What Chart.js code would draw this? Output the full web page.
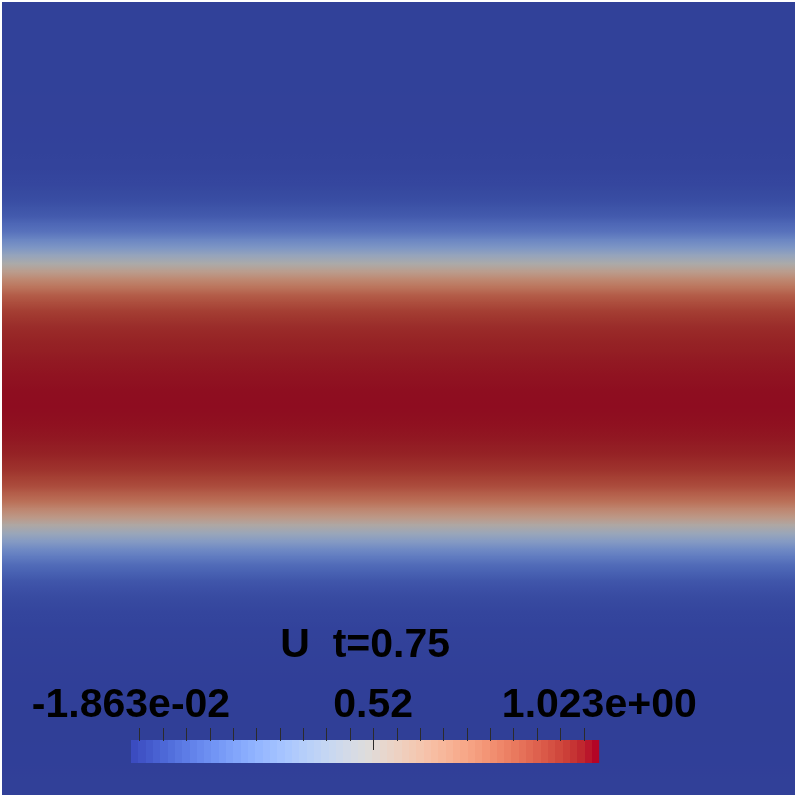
<!DOCTYPE html>
<html>
<head>
<meta charset="utf-8">
<script src="https://cdn.jsdelivr.net/npm/chart.js@4.4.1/dist/chart.umd.min.js"></script>
<style>
  html, body { margin: 0; padding: 0; background: #fff; }
  #wrap { position: relative; width: 797px; height: 797px; overflow: hidden; }
  #field { position: absolute; left: 2px; top: 2px; }
  #bar { position: absolute; left: 0; top: 600px; }
</style>
</head>
<body>
<div id="wrap">
  <canvas id="field" width="793" height="793"></canvas>
  <canvas id="bar" width="797" height="190"></canvas>
</div>
<script>
// domain height of each sample row (top to bottom) and the value of U there
const yPos = [0.99, 0.97, 0.95, 0.93, 0.91, 0.89, 0.87, 0.85, 0.83, 0.81,
              0.79, 0.77, 0.75, 0.73, 0.71, 0.69, 0.67, 0.65, 0.63, 0.61,
              0.59, 0.57, 0.55, 0.53, 0.51, 0.49, 0.47, 0.45, 0.43, 0.41,
              0.39, 0.37, 0.35, 0.33, 0.31, 0.29, 0.27, 0.25, 0.23, 0.21,
              0.19, 0.17, 0.15, 0.13, 0.11, 0.09, 0.07, 0.05, 0.03, 0.01];
const uVals = [0.000, 0.000, 0.000, 0.000, 0.000, 0.000, 0.001, 0.001, 0.002, 0.004,
               0.008, 0.017, 0.037, 0.079, 0.162, 0.310, 0.505, 0.700, 0.845, 0.925,
               0.965, 0.985, 0.996, 1.004, 1.010, 1.012, 1.008, 1.000, 0.985, 0.950,
               0.890, 0.785, 0.625, 0.425, 0.255, 0.135, 0.065, 0.030, 0.013, 0.005,
               0.001, -0.002, -0.004, -0.005, -0.006, -0.006, -0.006, -0.005, -0.004, -0.003];
const xRange = [0, 1];

const uMin = -1.863e-2;
const uMax = 1.023;
const tickVals = [0, 0.052, 0.104, 0.156, 0.208, 0.26, 0.312, 0.364, 0.416, 0.468,
                  0.52, 0.572, 0.624, 0.676, 0.728, 0.78, 0.832, 0.884, 0.936, 0.988];
const labelVals = [uMin, 0.52, uMax];
const labelText = ['-1.863e-02', '0.52', '1.023e+00'];
const titleText = 'U  t=0.75';

// cool to warm lookup table
const coolWarm = [
  [59,76,192],[68,90,204],[77,104,215],[87,117,225],[98,130,234],[108,142,241],
  [119,154,247],[130,165,251],[141,176,254],[152,185,255],[163,194,255],[174,201,253],
  [184,208,249],[194,213,244],[204,217,238],[213,219,230],[221,221,221],[229,216,209],
  [236,211,197],[241,204,185],[245,196,173],[247,187,160],[247,177,148],[247,166,135],
  [244,154,123],[241,141,111],[236,127,99],[229,112,88],[222,96,77],[213,80,66],
  [203,62,56],[192,40,47],[180,4,38]
];
const SHADE = 0.77;

function cmap(t, k) {
  t = Math.max(0, Math.min(1, t));
  const p = t * (coolWarm.length - 1);
  const i = Math.min(Math.floor(p), coolWarm.length - 2);
  const f = p - i;
  const a = coolWarm[i], b = coolWarm[i + 1];
  const c = a.map((v, j) => Math.round((v + (b[j] - v) * f) * k));
  return 'rgb(' + c.join(',') + ')';
}
function fieldColor(u) {
  return cmap((u - uMin) / (uMax - uMin), SHADE);
}

function rowFill(ctx) {
  const i = ctx.dataIndex;
  const chart = ctx.chart;
  if (ctx.type !== 'data' || !chart.chartArea) return fieldColor(uVals[i]);
  const ys = chart.scales.y;
  const half = Math.abs(yPos[1] - yPos[0]) / 2;
  const top = ys.getPixelForValue(yPos[i] + half);
  const bot = ys.getPixelForValue(yPos[i] - half);
  const uTop = i > 0 ? (uVals[i - 1] + uVals[i]) / 2 : uVals[i];
  const uBot = i < uVals.length - 1 ? (uVals[i] + uVals[i + 1]) / 2 : uVals[i];
  const g = chart.ctx.createLinearGradient(0, top, 0, bot);
  g.addColorStop(0, fieldColor(uTop));
  g.addColorStop(0.5, fieldColor(uVals[i]));
  g.addColorStop(1, fieldColor(uBot));
  return g;
}

new Chart(document.getElementById('field'), {
  type: 'bar',
  data: {
    datasets: [{
      data: yPos.map(y => ({ x: xRange, y: y })),
      backgroundColor: rowFill,
      borderWidth: 0,
      inflateAmount: 1,
      barPercentage: 1,
      categoryPercentage: 1
    }]
  },
  options: {
    indexAxis: 'y',
    responsive: false,
    animation: false,
    layout: { padding: 0 },
    plugins: { legend: { display: false }, tooltip: { enabled: false } },
    scales: {
      x: { type: 'linear', min: 0, max: 1, display: false },
      y: { type: 'linear', min: 0, max: 1, offset: false, display: false,
           grid: { offset: false }, ticks: { stepSize: 0.1 } }
    }
  }
});

// colour bar
const N_TABLE = 64;
function barFill(ctx) {
  const chart = ctx.chart;
  if (!chart.chartArea) return cmap(0.5, 1);
  const xs = chart.scales.x;
  const x0 = xs.getPixelForValue(uMin), x1 = xs.getPixelForValue(uMax);
  const g = chart.ctx.createLinearGradient(x0, 0, x1, 0);
  for (let k = 0; k < N_TABLE; k++) {
    const col = cmap(k / (N_TABLE - 1), 1);
    g.addColorStop(k / N_TABLE, col);
    g.addColorStop((k + 1) / N_TABLE - 1e-6, col);
  }
  return g;
}

const barMarks = {
  id: 'barMarks',
  afterDraw(chart) {
    const c = chart.ctx, xs = chart.scales.x, area = chart.chartArea;
    c.save();
    c.strokeStyle = '#2b2b2b';
    c.lineWidth = 1;
    tickVals.forEach(v => {
      const x = Math.round(xs.getPixelForValue(v)) + 0.5;
      c.beginPath();
      c.moveTo(x, area.top - 12);
      c.lineTo(x, v === labelVals[1] ? area.top + 10 : area.top + 1);
      c.stroke();
    });
    c.fillStyle = '#000';
    c.font = 'bold 41px "Liberation Sans", Arial, sans-serif';
    c.textAlign = 'center';
    c.textBaseline = 'alphabetic';
    labelVals.forEach((v, i) => {
      c.fillText(labelText[i], xs.getPixelForValue(v), area.top - 23);
    });
    c.fillText(titleText, (area.left + area.right) / 2, area.top - 83);
    c.restore();
  }
};

new Chart(document.getElementById('bar'), {
  type: 'bar',
  data: {
    labels: ['U'],
    datasets: [{
      data: [[uMin, uMax]],
      backgroundColor: barFill,
      borderWidth: 0,
      barPercentage: 1,
      categoryPercentage: 1
    }]
  },
  options: {
    indexAxis: 'y',
    responsive: false,
    animation: false,
    layout: { padding: { left: 131, right: 197.7, top: 140, bottom: 27 } },
    plugins: { legend: { display: false }, tooltip: { enabled: false } },
    scales: {
      x: { type: 'linear', min: uMin, max: uMax, display: false },
      y: { display: false }
    }
  },
  plugins: [barMarks]
});
</script>
</body>
</html>
